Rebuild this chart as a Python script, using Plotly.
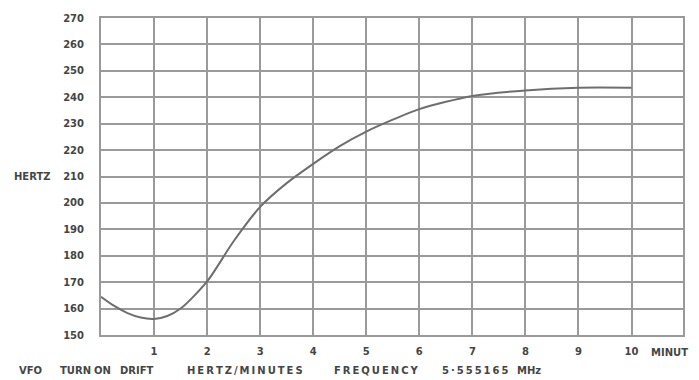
import plotly.graph_objects as go

# drift curve
minutes = [0, 0.25, 0.5, 0.75, 1.0, 1.25, 1.5, 2.0, 2.5, 3.0, 3.5, 4.0, 4.5, 5.0, 5.5, 6.0, 7.0, 8.0, 9.0, 10.0]
hertz = [164.5, 161, 158.3, 156.6, 156.1, 157.2, 160, 170.3, 185.5, 198.5, 207.5, 214.8, 221.5, 227, 231.5, 235.5, 240.5, 242.6, 243.6, 243.6]

x_ticks = [1, 2, 3, 4, 5, 6, 7, 8, 9, 10]
y_ticks = [150, 160, 170, 180, 190, 200, 210, 220, 230, 240, 250, 260, 270]

# caption words under the chart and their left edge in pixels
caption_words = ["VFO", "TURN", "ON", "DRIFT", "HERTZ/MINUTES", "FREQUENCY", "5·555165", "MHz"]
caption_left = [17, 58, 92, 118, 185, 332, 440, 515]
spaced = {"HERTZ/MINUTES", "FREQUENCY", "5·555165"}

INK = "#454545"
GRID = "#9a9a9a"
FONT = dict(family="DejaVu Sans", size=10, color=INK, weight="bold")

PLOT_L, PLOT_R = 101, 683

fig = go.Figure()
fig.add_trace(go.Scatter(
    x=minutes, y=hertz, mode="lines",
    line=dict(color="#6e6e6e", width=2, shape="spline", smoothing=0.8),
    showlegend=False, hoverinfo="skip",
))

fig.update_layout(
    width=699, height=380,
    paper_bgcolor="white", plot_bgcolor="white",
    margin=dict(l=PLOT_L, r=699 - PLOT_R, t=15, b=45),
    font=FONT,
)
fig.update_xaxes(
    range=[0, 10.97], tickvals=x_ticks, ticktext=[str(v) for v in x_ticks],
    showgrid=True, gridcolor=GRID, gridwidth=1.5,
    showline=True, linecolor=GRID, linewidth=2, mirror=True,
    zeroline=False, ticks="", ticklen=0, ticklabelstandoff=6,
)
fig.update_yaxes(
    range=[150, 270], tickvals=y_ticks,
    showgrid=True, gridcolor=GRID, gridwidth=1.5,
    showline=True, linecolor=GRID, linewidth=2, mirror=True,
    zeroline=False, ticks="", ticklen=0, ticklabelstandoff=13,
)

fig.add_annotation(text="HERTZ", x=0, y=210, xref="paper", yref="y",
                   xanchor="left", xshift=12 - PLOT_L, showarrow=False, font=FONT)
fig.add_annotation(text="MINUT", x=10, y=0, xref="x", yref="paper",
                   xanchor="left", yanchor="middle", xshift=17, yshift=-17,
                   showarrow=False, font=FONT)

for word, left in zip(caption_words, caption_left):
    txt = "\u2009".join(word) if word in spaced else word
    fig.add_annotation(
        text=txt, x=(left - PLOT_L) / (PLOT_R - PLOT_L), y=0,
        xref="paper", yref="paper", xanchor="left", yanchor="middle",
        yshift=-35, showarrow=False, font=FONT,
    )

fig.write_html("out.html", config={"displayModeBar": False},
               post_script="document.body.style.margin='0px';")
